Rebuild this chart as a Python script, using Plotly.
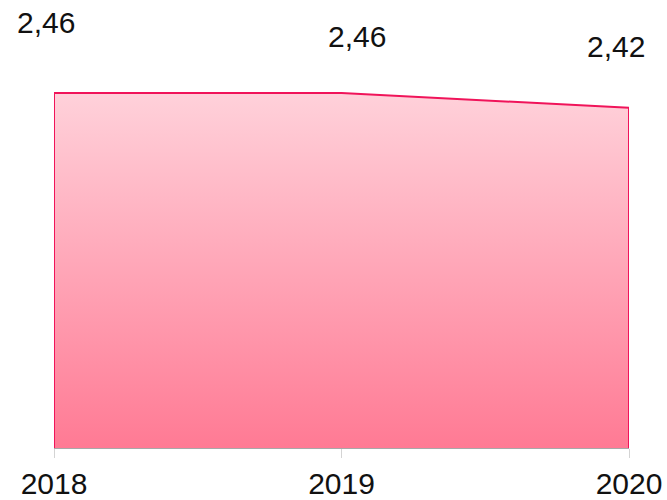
import plotly.graph_objects as go

years = [2018, 2019, 2020]
values = [2.46, 2.46, 2.42]
tick_labels = ["2018", "2019", "2020"]

# label offsets (pixels) for the value labels
label_dx = [-8, 15, -13]
label_dy = [71, 57, 61]

y_min, y_max = 1.493, 2.55

# closed outline: include vertical sides down to the axis floor
outline_x = [years[0]] + years + [years[-1]]
outline_y = [y_min] + values + [y_min]

fig = go.Figure()
fig.add_trace(go.Scatter(
    x=outline_x, y=outline_y, mode="lines",
    line=dict(color="#f0145a", width=2),
    fill="toself",
    fillgradient=dict(type="vertical", start=y_min, stop=max(values),
                      colorscale=[[0, "#ff7a94"], [1, "#ffd1da"]]),
    hoverinfo="skip", showlegend=False,
))

for x, v, dx, dy in zip(years, values, label_dx, label_dy):
    fig.add_annotation(x=x, y=v, text=f"{v:.2f}".replace(".", ","),
                       showarrow=False, xshift=dx, yshift=dy,
                       font=dict(family="Liberation Sans, Arial", size=30, color="#111111"))

fig.update_layout(
    width=667, height=500,
    margin=dict(l=54, r=38, t=60, b=52, autoexpand=False),
    paper_bgcolor="white", plot_bgcolor="white",
    xaxis=dict(range=[2018, 2020], tickvals=years, ticktext=tick_labels,
               automargin=False,
               showgrid=False, zeroline=False, showline=True,
               linecolor="#a8a8a8", linewidth=1,
               ticks="outside", ticklen=9, tickcolor="#d4d4d4", tickwidth=1,
               tickfont=dict(family="Liberation Sans, Arial", size=30, color="#111111")),
    yaxis=dict(range=[y_min, y_max], visible=False, showgrid=False, zeroline=False),
)

fig.write_html("out.html",
               config={"displayModeBar": False},
               post_script="document.body.style.margin='0px';document.body.style.overflow='hidden';")
